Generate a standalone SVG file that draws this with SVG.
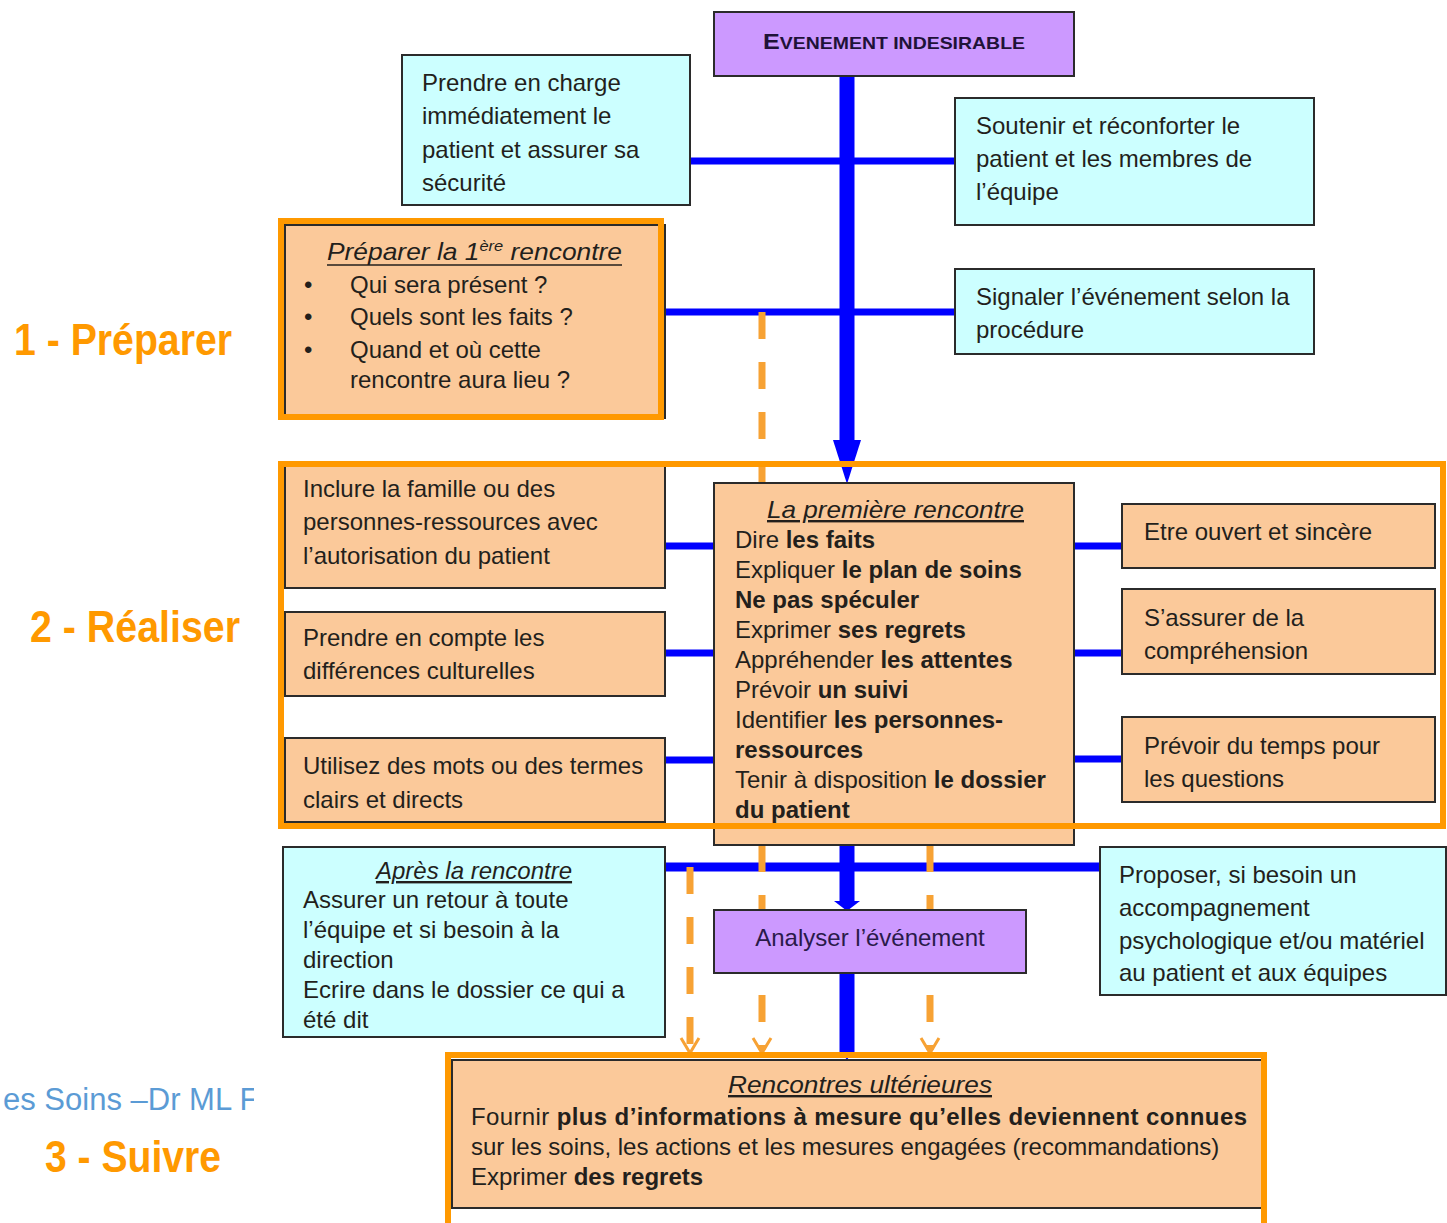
<svg xmlns="http://www.w3.org/2000/svg" width="1447" height="1223" viewBox="0 0 1447 1223">
<style>
.t{font-family:"Liberation Sans",Arial,sans-serif;font-size:24px;fill:#231f1c}
.b{font-weight:bold}
.it{font-style:italic;text-decoration:underline}
.box{stroke:#2b2b2b;stroke-width:2}
.cy{fill:#CCFFFF}
.pe{fill:#FBC99A}
.pu{fill:#CC99FF}
.grp{fill:none;stroke:#FF9900;stroke-width:6}
.blue{stroke:#0000FF;fill:none}
.dash{stroke:#F7A234;stroke-width:7;fill:none;stroke-dasharray:27 23}
.ah{stroke:#F7A234;stroke-width:3;fill:none}
.lab{font-family:"Liberation Sans",Arial,sans-serif;font-size:44px;font-weight:bold;fill:#FF9900}
</style>
<defs>
<clipPath id="clipFooter"><rect x="0" y="1070" width="254" height="60"/></clipPath>
</defs>
<rect width="1447" height="1223" fill="#ffffff"/>

<g id="connectors">
<line class="blue" x1="847" y1="76" x2="847" y2="442" stroke-width="15"/>
<polygon points="833,440 861,440 847,484" fill="#0000FF"/>
<line class="blue" x1="690" y1="161" x2="955" y2="161" stroke-width="7"/>
<line class="blue" x1="665" y1="312" x2="955" y2="312" stroke-width="7"/>
<line class="blue" x1="665" y1="546" x2="714" y2="546" stroke-width="7"/>
<line class="blue" x1="665" y1="653" x2="714" y2="653" stroke-width="7"/>
<line class="blue" x1="665" y1="760" x2="714" y2="760" stroke-width="7"/>
<line class="blue" x1="1074" y1="546" x2="1122" y2="546" stroke-width="7"/>
<line class="blue" x1="1074" y1="653" x2="1122" y2="653" stroke-width="7"/>
<line class="blue" x1="1074" y1="759" x2="1122" y2="759" stroke-width="7"/>
<line class="blue" x1="665" y1="867" x2="1100" y2="867" stroke-width="9"/>
<line class="blue" x1="847" y1="845" x2="847" y2="902" stroke-width="15"/>
<polygon points="834,901 860,901 847,911" fill="#0000FF"/>
<line class="blue" x1="847" y1="973" x2="847" y2="1052" stroke-width="15"/>
<polygon points="840,1050 854,1050 847,1060" fill="#0000FF"/>
<line class="dash" x1="762" y1="312" x2="762" y2="484"/>
<line class="dash" x1="690" y1="867" x2="690" y2="1050"/>
<line class="dash" x1="762" y1="845" x2="762" y2="1050"/>
<line class="dash" x1="930" y1="845" x2="930" y2="1050"/>
<polyline class="ah" points="681,1038 690,1053 699,1038"/>
<polyline class="ah" points="753,1038 762,1053 771,1038"/>
<polyline class="ah" points="921,1038 930,1053 939,1038"/>
</g>

<g id="n-evenement">
<rect class="box pu" x="714" y="12" width="360" height="64"/>
<text class="t b" x="894" y="49" text-anchor="middle" textLength="262" lengthAdjust="spacingAndGlyphs" style="fill:#1f1238"><tspan font-size="22">E</tspan><tspan font-size="17">VENEMENT INDESIRABLE</tspan></text>
</g>

<g id="n-prendre">
<rect class="box cy" x="402" y="55" width="288" height="150"/>
<text class="t" x="422" y="91">Prendre en charge</text>
<text class="t" x="422" y="124">immédiatement le</text>
<text class="t" x="422" y="158">patient et assurer sa</text>
<text class="t" x="422" y="191">sécurité</text>
</g>

<g id="n-soutenir">
<rect class="box cy" x="955" y="98" width="359" height="127"/>
<text class="t" x="976" y="134">Soutenir et réconforter le</text>
<text class="t" x="976" y="167">patient et les membres de</text>
<text class="t" x="976" y="200">l’équipe</text>
</g>

<g id="n-signaler">
<rect class="box cy" x="955" y="269" width="359" height="85"/>
<text class="t" x="976" y="305">Signaler l’événement selon la</text>
<text class="t" x="976" y="338">procédure</text>
</g>

<g id="n-preparer">
<rect class="box pe" x="285" y="225" width="380" height="193"/>
<text class="t" x="327" y="260" textLength="295" lengthAdjust="spacingAndGlyphs" style="font-style:italic">Préparer la 1<tspan font-size="15" dy="-9">ère</tspan><tspan dy="9"> rencontre</tspan></text>
<line x1="327" y1="265" x2="622" y2="265" stroke="#231f1c" stroke-width="1.5"/>
<text class="t" x="304" y="293">•</text>
<text class="t" x="350" y="293">Qui sera présent ?</text>
<text class="t" x="304" y="325">•</text>
<text class="t" x="350" y="325">Quels sont les faits ?</text>
<text class="t" x="304" y="358">•</text>
<text class="t" x="350" y="358">Quand et où cette</text>
<text class="t" x="350" y="388">rencontre aura lieu ?</text>
</g>

<g id="n-inclure">
<rect class="box pe" x="285" y="465" width="380" height="123"/>
<text class="t" x="303" y="497">Inclure la famille ou des</text>
<text class="t" x="303" y="530">personnes-ressources avec</text>
<text class="t" x="303" y="564">l’autorisation du patient</text>
</g>

<g id="n-culture">
<rect class="box pe" x="285" y="612" width="380" height="84"/>
<text class="t" x="303" y="646">Prendre en compte les</text>
<text class="t" x="303" y="679">différences culturelles</text>
</g>

<g id="n-mots">
<rect class="box pe" x="285" y="738" width="380" height="84"/>
<text class="t" x="303" y="774">Utilisez des mots ou des termes</text>
<text class="t" x="303" y="808">clairs et directs</text>
</g>

<g id="n-premiere">
<rect class="box pe" x="714" y="483" width="360" height="362"/>
<text class="t it" x="767" y="518" textLength="257" lengthAdjust="spacingAndGlyphs">La première rencontre</text>
<text class="t" x="735" y="548">Dire <tspan class="b">les faits</tspan></text>
<text class="t" x="735" y="578">Expliquer <tspan class="b">le plan de soins</tspan></text>
<text class="t b" x="735" y="608">Ne pas spéculer</text>
<text class="t" x="735" y="638">Exprimer <tspan class="b">ses regrets</tspan></text>
<text class="t" x="735" y="668">Appréhender <tspan class="b">les attentes</tspan></text>
<text class="t" x="735" y="698">Prévoir <tspan class="b">un suivi</tspan></text>
<text class="t" x="735" y="728">Identifier <tspan class="b">les personnes-</tspan></text>
<text class="t b" x="735" y="758">ressources</text>
<text class="t" x="735" y="788">Tenir à disposition <tspan class="b">le dossier</tspan></text>
<text class="t b" x="735" y="818">du patient</text>
</g>

<g id="n-ouvert">
<rect class="box pe" x="1122" y="504" width="313" height="64"/>
<text class="t" x="1144" y="540">Etre ouvert et sincère</text>
</g>

<g id="n-assurer">
<rect class="box pe" x="1122" y="589" width="313" height="85"/>
<text class="t" x="1144" y="626">S’assurer de la</text>
<text class="t" x="1144" y="659">compréhension</text>
</g>

<g id="n-temps">
<rect class="box pe" x="1122" y="717" width="313" height="85"/>
<text class="t" x="1144" y="754">Prévoir du temps pour</text>
<text class="t" x="1144" y="787">les questions</text>
</g>

<g id="n-apres">
<rect class="box cy" x="283" y="847" width="382" height="190"/>
<text class="t it" x="474" y="879" text-anchor="middle">Après la rencontre</text>
<text class="t" x="303" y="908">Assurer un retour à toute</text>
<text class="t" x="303" y="938">l’équipe et si besoin à la</text>
<text class="t" x="303" y="968">direction</text>
<text class="t" x="303" y="998">Ecrire dans le dossier ce qui a</text>
<text class="t" x="303" y="1028">été dit</text>
</g>

<g id="n-proposer">
<rect class="box cy" x="1100" y="847" width="346" height="148"/>
<text class="t" x="1119" y="883">Proposer, si besoin un</text>
<text class="t" x="1119" y="916">accompagnement</text>
<text class="t" x="1119" y="949">psychologique et/ou matériel</text>
<text class="t" x="1119" y="981">au patient et aux équipes</text>
</g>

<g id="n-analyser">
<rect class="box pu" x="714" y="910" width="312" height="63"/>
<text class="t" x="870" y="946" text-anchor="middle" style="fill:#2a1a4a">Analyser l’événement</text>
</g>

<g id="n-ulterieures">
<rect class="box pe" x="452" y="1060" width="810" height="148"/>
<text class="t it" x="728" y="1093" textLength="264" lengthAdjust="spacingAndGlyphs">Rencontres ultérieures</text>
<text class="t" x="471" y="1125" textLength="776" lengthAdjust="spacing">Fournir <tspan class="b">plus d’informations à mesure qu’elles deviennent connues</tspan></text>
<text class="t" x="471" y="1155">sur les soins, les actions et les mesures engagées (recommandations)</text>
<text class="t" x="471" y="1185">Exprimer <tspan class="b">des regrets</tspan></text>
</g>

<g id="groups">
<rect class="grp" x="281" y="221" width="380" height="196"/>
<rect class="grp" x="281" y="464" width="1162" height="362"/>
<rect class="grp" x="448" y="1055" width="816" height="200"/>
</g>

<g id="labels">
<text class="lab" x="14" y="355" textLength="218" lengthAdjust="spacingAndGlyphs">1 - Préparer</text>
<text class="lab" x="30" y="642" textLength="210" lengthAdjust="spacingAndGlyphs">2 - Réaliser</text>
<text class="lab" x="45" y="1172" textLength="176" lengthAdjust="spacingAndGlyphs">3 - Suivre</text>
<text x="3" y="1110" clip-path="url(#clipFooter)" style="font-family:'Liberation Sans',Arial,sans-serif;font-size:31px;fill:#5B9BD5">es Soins –Dr ML F</text>
</g>
</svg>
